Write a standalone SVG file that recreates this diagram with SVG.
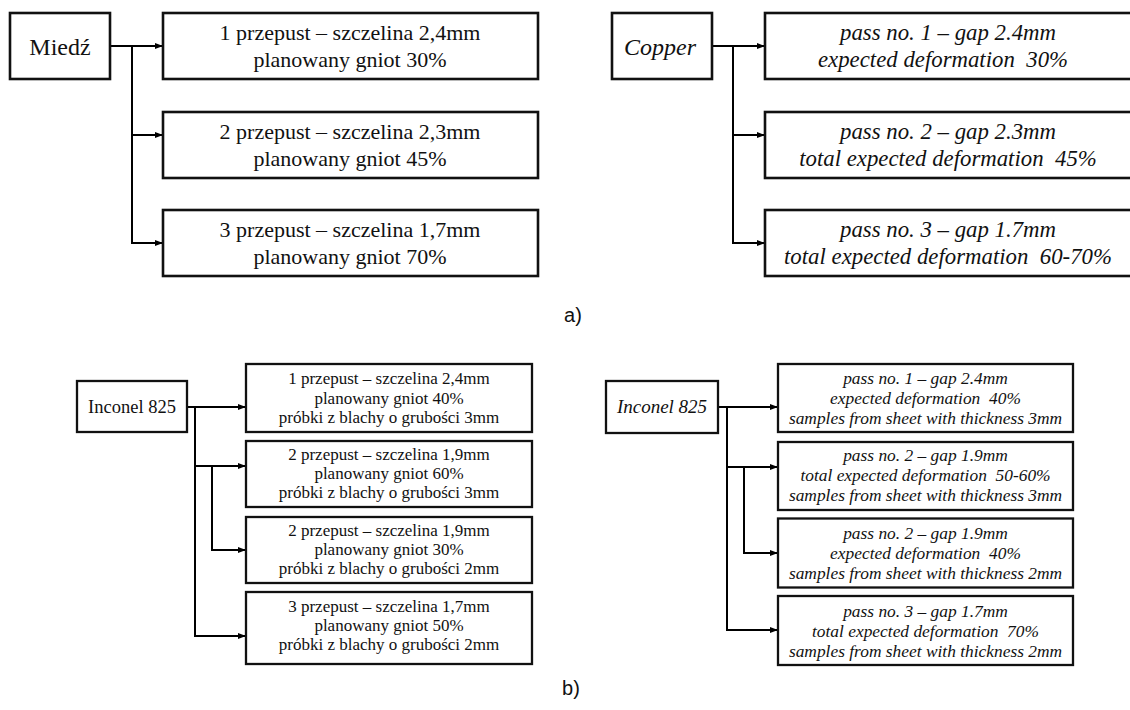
<svg xmlns="http://www.w3.org/2000/svg" width="1130" height="710" viewBox="0 0 1130 710">
<defs>
<marker id="arr" markerUnits="userSpaceOnUse" markerWidth="9" markerHeight="7" refX="8" refY="3" orient="auto">
<path d="M0,0 L8,3 L0,6 z" fill="#000"/>
</marker>
<style>
.box{fill:#fff;stroke:#111;stroke-width:2.6}
.bx2{fill:#fff;stroke:#111;stroke-width:2.3}
.ln{fill:none;stroke:#000;stroke-width:2}
.ar{fill:none;stroke:#000;stroke-width:2;marker-end:url(#arr)}
.t{font-family:'Liberation Serif',Tinos,'Times New Roman','DejaVu Serif',serif;fill:#111;text-anchor:middle}
.i{font-style:italic}
.big{font-size:22px}
.bigi{font-size:22.8px}
.sm{font-size:17px}
.smi{font-size:17.4px}
.lab{font-family:'Liberation Sans',Arial,sans-serif;font-size:20px;fill:#111;text-anchor:middle}
</style>
</defs>

<g id="connectors">
<line class="ln" x1="110" y1="46" x2="132" y2="46"/>
<line class="ln" x1="132" y1="46" x2="132" y2="243"/>
<line class="ar" x1="132" y1="46" x2="163" y2="46"/>
<line class="ar" x1="132" y1="135" x2="163" y2="135"/>
<line class="ar" x1="131" y1="243" x2="163" y2="243"/>

<line class="ln" x1="712" y1="46" x2="733" y2="46"/>
<line class="ln" x1="733" y1="46" x2="733" y2="243"/>
<line class="ar" x1="733" y1="46" x2="765" y2="46"/>
<line class="ar" x1="733" y1="135" x2="765" y2="135"/>
<line class="ar" x1="732" y1="243" x2="765" y2="243"/>

<line class="ln" x1="187" y1="407" x2="195" y2="407"/>
<line class="ln" x1="195" y1="407" x2="195" y2="636"/>
<line class="ar" x1="195" y1="407" x2="246" y2="407"/>
<line class="ar" x1="195" y1="466" x2="246" y2="466"/>
<line class="ln" x1="212" y1="466" x2="212" y2="550"/>
<line class="ar" x1="211" y1="550" x2="246" y2="550"/>
<line class="ar" x1="194" y1="636" x2="246" y2="636"/>

<line class="ln" x1="718" y1="407" x2="727" y2="407"/>
<line class="ln" x1="727" y1="407" x2="727" y2="630"/>
<line class="ar" x1="727" y1="407" x2="778" y2="407"/>
<line class="ar" x1="727" y1="467" x2="778" y2="467"/>
<line class="ln" x1="744" y1="467" x2="744" y2="553"/>
<line class="ar" x1="743" y1="553" x2="778" y2="553"/>
<line class="ar" x1="726" y1="630" x2="778" y2="630"/>
</g>

<!-- a) Polish -->
<g id="miedz">
<rect class="box" x="10" y="13" width="100" height="66"/>
<text class="t" x="60" y="55" font-size="24">Miedź</text>
</g>
<g id="pl-a1">
<rect class="box" x="163" y="13" width="375" height="66"/>
<text class="t big" x="350" y="39.5">1 przepust – szczelina 2,4mm</text>
<text class="t big" x="350" y="66.5">planowany gniot 30%</text>
</g>
<g id="pl-a2">
<rect class="box" x="163" y="112" width="375" height="66"/>
<text class="t big" x="350" y="138.5">2 przepust – szczelina 2,3mm</text>
<text class="t big" x="350" y="165.5">planowany gniot 45%</text>
</g>
<g id="pl-a3">
<rect class="box" x="163" y="210" width="375" height="66"/>
<text class="t big" x="350" y="236.5">3 przepust – szczelina 1,7mm</text>
<text class="t big" x="350" y="263.5">planowany gniot 70%</text>
</g>

<!-- a) English -->
<g id="copper">
<rect class="box" x="612" y="13" width="100" height="66"/>
<text class="t i" x="660" y="55" font-size="24">Copper</text>
</g>
<g id="en-a1">
<rect class="box" x="765" y="13" width="368" height="66"/>
<text class="t i bigi" x="948" y="39.5">pass no. 1 – gap 2.4mm</text>
<text class="t i bigi" x="943" y="66.5" xml:space="preserve">expected deformation  30%</text>
</g>
<g id="en-a2">
<rect class="box" x="765" y="112" width="368" height="66"/>
<text class="t i bigi" x="948" y="138.5">pass no. 2 – gap 2.3mm</text>
<text class="t i bigi" x="948" y="165.5" xml:space="preserve">total expected deformation  45%</text>
</g>
<g id="en-a3">
<rect class="box" x="765" y="210" width="368" height="66"/>
<text class="t i bigi" x="948" y="236.5">pass no. 3 – gap 1.7mm</text>
<text class="t i bigi" x="948" y="263.5" xml:space="preserve">total expected deformation  60-70%</text>
</g>

<text id="label-a" class="lab" x="573" y="322">a)</text>

<!-- b) Polish -->
<g id="inconel-pl">
<rect class="bx2" x="77" y="381" width="110" height="51"/>
<text class="t" x="132" y="413" font-size="18.5">Inconel 825</text>
</g>
<g id="pl-b1">
<rect class="bx2" x="246" y="364" width="286" height="68"/>
<text class="t sm" x="389" y="384.3">1 przepust – szczelina 2,4mm</text>
<text class="t sm" x="389" y="403.5">planowany gniot 40%</text>
<text class="t sm" x="389" y="422.7">próbki z blachy o grubości 3mm</text>
</g>
<g id="pl-b2">
<rect class="bx2" x="246" y="441" width="286" height="66"/>
<text class="t sm" x="389" y="460">2 przepust – szczelina 1,9mm</text>
<text class="t sm" x="389" y="479.2">planowany gniot 60%</text>
<text class="t sm" x="389" y="498.4">próbki z blachy o grubości 3mm</text>
</g>
<g id="pl-b3">
<rect class="bx2" x="246" y="517" width="286" height="66"/>
<text class="t sm" x="389" y="536">2 przepust – szczelina 1,9mm</text>
<text class="t sm" x="389" y="555.2">planowany gniot 30%</text>
<text class="t sm" x="389" y="574.4">próbki z blachy o grubości 2mm</text>
</g>
<g id="pl-b4">
<rect class="bx2" x="246" y="592" width="286" height="72"/>
<text class="t sm" x="389" y="611.7">3 przepust – szczelina 1,7mm</text>
<text class="t sm" x="389" y="630.9">planowany gniot 50%</text>
<text class="t sm" x="389" y="650.1">próbki z blachy o grubości 2mm</text>
</g>

<!-- b) English -->
<g id="inconel-en">
<rect class="bx2" x="606" y="381" width="112" height="52"/>
<text class="t i" x="662" y="413" font-size="19">Inconel 825</text>
</g>
<g id="en-b1">
<rect class="bx2" x="778" y="364" width="295" height="68"/>
<text class="t i smi" x="925.5" y="383.5">pass no. 1 – gap 2.4mm</text>
<text class="t i smi" x="925.5" y="403.5" xml:space="preserve">expected deformation  40%</text>
<text class="t i smi" x="925.5" y="423.5">samples from sheet with thickness 3mm</text>
</g>
<g id="en-b2">
<rect class="bx2" x="778" y="442" width="295" height="68"/>
<text class="t i smi" x="925.5" y="460.5">pass no. 2 – gap 1.9mm</text>
<text class="t i smi" x="925.5" y="480.5" xml:space="preserve">total expected deformation  50-60%</text>
<text class="t i smi" x="925.5" y="500.5">samples from sheet with thickness 3mm</text>
</g>
<g id="en-b3">
<rect class="bx2" x="778" y="518.5" width="295" height="69"/>
<text class="t i smi" x="925.5" y="539.3">pass no. 2 – gap 1.9mm</text>
<text class="t i smi" x="925.5" y="559.3" xml:space="preserve">expected deformation  40%</text>
<text class="t i smi" x="925.5" y="579.3">samples from sheet with thickness 2mm</text>
</g>
<g id="en-b4">
<rect class="bx2" x="778" y="596" width="295" height="69"/>
<text class="t i smi" x="925.5" y="616.5">pass no. 3 – gap 1.7mm</text>
<text class="t i smi" x="925.5" y="636.5" xml:space="preserve">total expected deformation  70%</text>
<text class="t i smi" x="925.5" y="656.5">samples from sheet with thickness 2mm</text>
</g>

<text id="label-b" class="lab" x="571" y="695">b)</text>
</svg>
